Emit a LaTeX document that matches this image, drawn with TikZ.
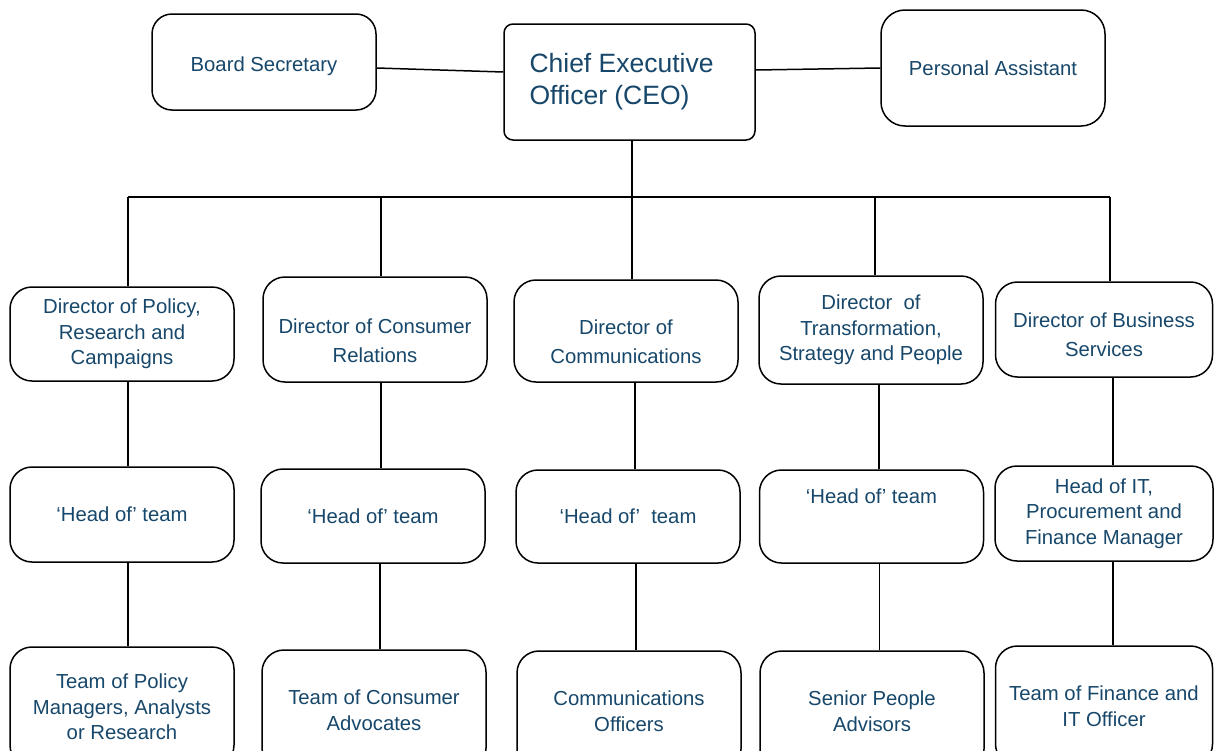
\documentclass[tikz,border=0pt]{standalone}
\usepackage{fontspec}
\setmainfont{Liberation Sans}
\usepackage{tikz}

\definecolor{orgtext}{HTML}{17476A}

\tikzset{
  orgbox/.style={draw, line width=1.5pt, rounded corners=22pt, align=center,
    text=orgtext, font=\fontsize{20.3}{25.5}\selectfont, inner sep=0pt,
    minimum width=224pt, minimum height=95pt},
  link/.style={line width=1.5pt}
}

\begin{document}
\begin{tikzpicture}[x=1pt,y=-1pt]

\clip (0,0) rectangle (1214,750);
\fill[white] (0,0) rectangle (1214,750);

% top row
\node[orgbox, rounded corners=20pt, minimum height=96pt, text height=23pt] (sec) at (264,62) {Board Secretary};
\node[orgbox, rounded corners=9pt, minimum width=251pt, minimum height=116pt,
  font=\fontsize{26.5}{32}\selectfont, align=left] (ceo) at (629.5,82)
  {Chief Executive\\Officer (CEO)\hspace*{40pt}};
\node[orgbox, rounded corners=24pt, minimum height=116pt] (pa) at (993,68) {Personal Assistant};

% directors
\node[orgbox, minimum height=94pt] (d1) at (122,334) {Director of Policy,\\Research and\\Campaigns};
\node[orgbox, minimum height=105pt, text height=66pt] (d2) at (375,329.5) {Director of Consumer\\[3.5pt]Relations};
\node[orgbox, minimum height=102pt, text height=66pt] (d3) at (626,331) {Director of\\[3.5pt]Communications};
\node[orgbox, minimum height=108pt] (d4) at (871,330) {Director\ \ of\\Transformation,\\Strategy and People};
\node[orgbox, minimum width=217pt, text height=54pt] (d5) at (1104,329.5) {Director of Business\\[3.5pt]Services};

% heads of teams
\node[orgbox] (h1) at (122,514.5) {‘Head of’ team};
\node[orgbox, minimum height=94pt] (h2) at (373,516) {‘Head of’ team};
\node[orgbox, minimum height=93pt] (h3) at (628,516.5) {‘Head of’\ \ team};
\node[orgbox, minimum height=93pt] (h4) at (871.5,516.5) {‘Head of’ team\\[16pt]~};
\node[orgbox, minimum width=218pt] (h5) at (1104,513.5) {Head of IT,\\Procurement and\\Finance Manager};

% teams (cut off at the bottom)
\node[orgbox, minimum height=120pt] (t1) at (122,707) {Team of Policy\\Managers, Analysts\\or Research};
\node[orgbox, minimum height=120pt] (t2) at (374,710) {Team of Consumer\\Advocates};
\node[orgbox, minimum height=120pt] (t3) at (629,711) {Communications\\Officers};
\node[orgbox, minimum height=120pt] (t4) at (872,711) {Senior People\\Advisors};
\node[orgbox, minimum width=217pt, minimum height=120pt] (t5) at (1104,706) {Team of Finance and\\IT Officer};

% links at the top
\draw[link] ([yshift=-6pt]sec.east) -- ([yshift=10pt]ceo.west);
\draw[link] (pa.west) -- ([yshift=12pt]ceo.east);

% bus down to the directors
\coordinate (bus) at (632,197);
\draw[link] ([xshift=6pt]d1.north |- bus) -- ([xshift=6pt]d5.north |- bus);
\draw[link] ([xshift=2.5pt]ceo.south) -- ([xshift=2.5pt]ceo.south |- d3.north);
\draw[link] ([xshift=6pt]d1.north |- bus) -- ([xshift=6pt]d1.north);
\draw[link] ([xshift=6pt]d2.north |- bus) -- ([xshift=6pt]d2.north);
\draw[link] ([xshift=4pt]d4.north |- bus) -- ([xshift=4pt]d4.north);
\draw[link] ([xshift=6pt]d5.north |- bus) -- ([xshift=6pt]d5.north);

% directors to heads
\draw[link] ([xshift=6pt]d1.south) -- ([xshift=6pt]d1.south |- h1.north);
\draw[link] ([xshift=6pt]d2.south) -- ([xshift=6pt]d2.south |- h2.north);
\draw[link] ([xshift=9pt]d3.south) -- ([xshift=9pt]d3.south |- h3.north);
\draw[link] ([xshift=8pt]d4.south) -- ([xshift=8pt]d4.south |- h4.north);
\draw[link] ([xshift=9pt]d5.south) -- ([xshift=9pt]d5.south |- h5.north);

% heads to teams
\draw[link] ([xshift=6pt]h1.south) -- ([xshift=6pt]h1.south |- t1.north);
\draw[link] ([xshift=7pt]h2.south) -- ([xshift=7pt]h2.south |- t2.north);
\draw[link] ([xshift=8pt]h3.south) -- ([xshift=8pt]h3.south |- t3.north);
\draw[link] ([xshift=8pt]h4.south) -- ([xshift=8pt]h4.south |- t4.north);
\draw[link] ([xshift=9pt]h5.south) -- ([xshift=9pt]h5.south |- t5.north);

\end{tikzpicture}
\end{document}
